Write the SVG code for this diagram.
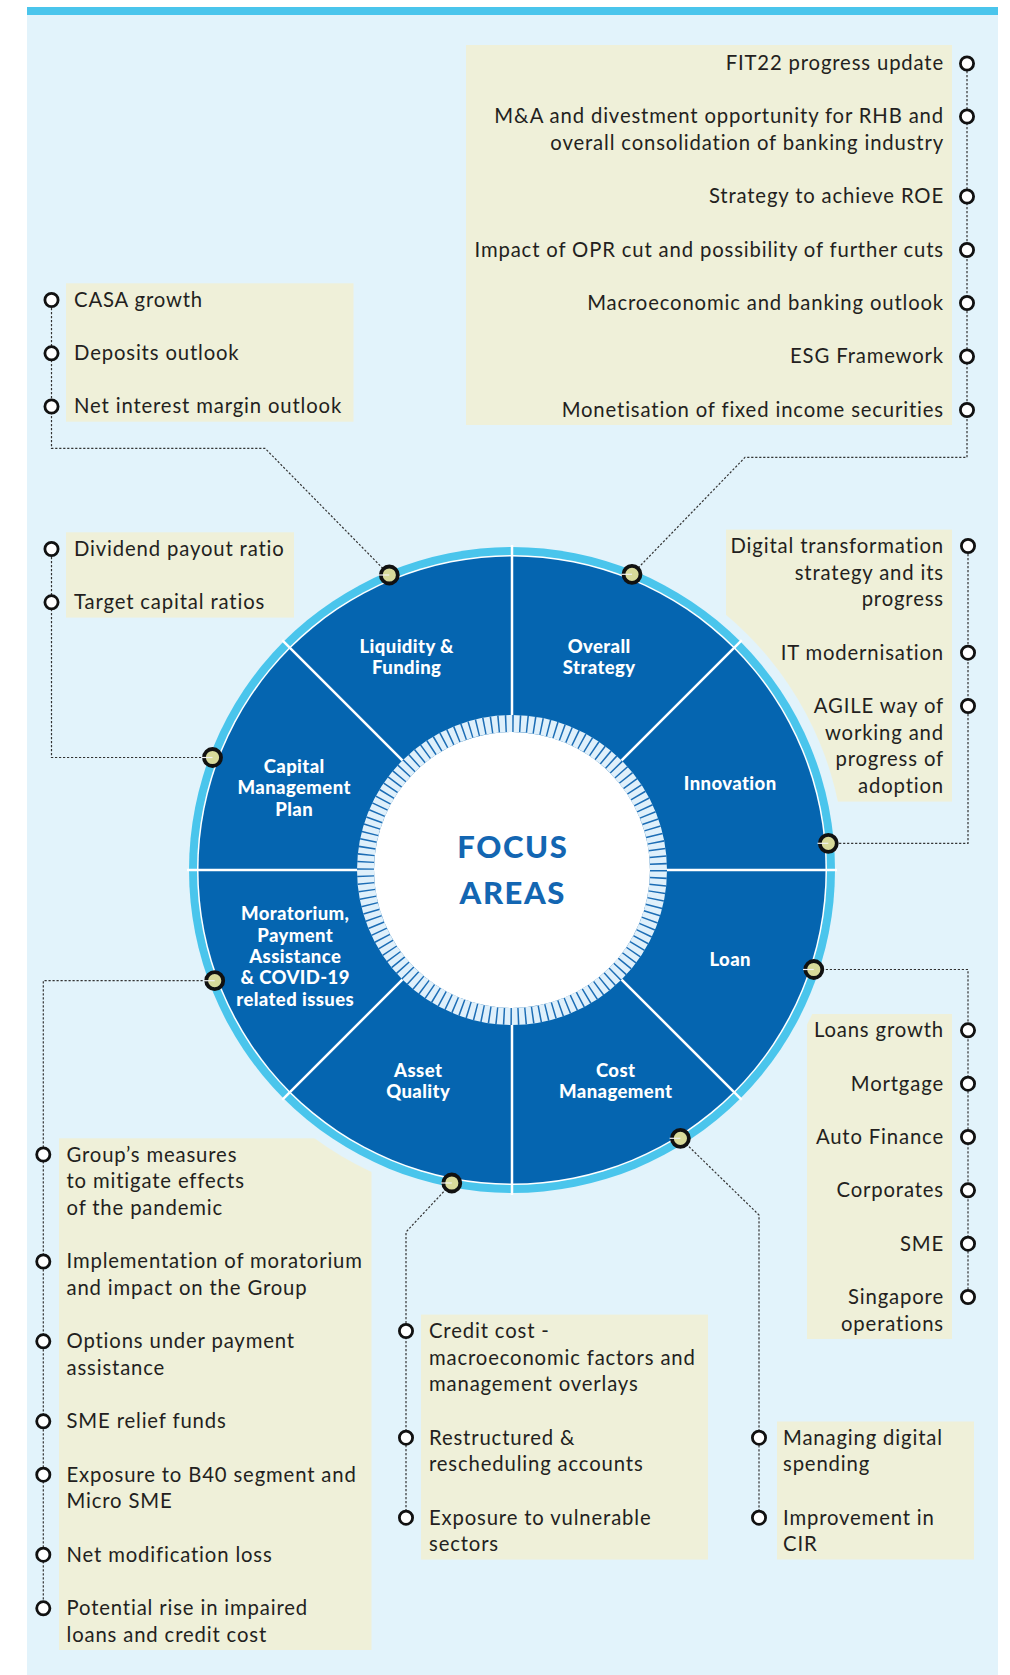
<svg xmlns="http://www.w3.org/2000/svg" width="1010" height="1675" viewBox="0 0 1010 1675">
<defs>
<style>
.bg{fill:#e2f3fb}
.bar{fill:#4ac5ec}
.box{fill:#eff0d9}
.t{font-family:Lato,"Open Sans","Liberation Sans",sans-serif;font-size:20.3px;letter-spacing:0.85px;fill:#231f20}
.r{text-anchor:end}
.lbl{font-family:Lato,"Open Sans","Liberation Sans",sans-serif;font-size:18.5px;font-weight:900;letter-spacing:0.4px;fill:#ffffff;text-anchor:middle}
.focus{font-family:Lato,"Open Sans","Liberation Sans",sans-serif;font-size:31px;font-weight:900;letter-spacing:1.6px;fill:#1366b2;text-anchor:middle}
.ic{fill:#ffffff;stroke:#111111;stroke-width:2.8}
.con{fill:none;stroke:#333333;stroke-width:1.2;stroke-dasharray:2.2 1.8}
.dot{fill:#d8da9a;stroke:#111111;stroke-width:3.8}
.tick{stroke:#f2f2f2;stroke-width:1.2}
.div{stroke:#ffffff;stroke-width:2.5}
</style>
<mask id="hole" maskUnits="userSpaceOnUse" x="0" y="0" width="1010" height="1675">
<rect x="0" y="0" width="1010" height="1675" fill="#ffffff"/>
<circle cx="512" cy="870" r="333" fill="#000000"/>
</mask>
</defs>
<rect class="bg" x="27" y="7" width="971" height="1668"/>
<rect class="bar" x="27" y="7" width="971" height="8"/>

<g id="wheel">
<circle cx="512" cy="870" r="323" fill="#4ac5ec"/>
<circle cx="512" cy="870" r="315" fill="#ffffff"/>
<circle cx="512" cy="870" r="313.5" fill="#0565b0"/>
<circle cx="512" cy="870" r="146.5" fill="none" stroke="#dff0fb" stroke-width="17"/>
<circle cx="512" cy="870" r="146.5" fill="none" stroke="#1c6db5" stroke-width="17" stroke-dasharray="1.5 5.691"/>
<circle cx="512" cy="870" r="138" fill="#ffffff"/>
<g class="div">
<line x1="512" y1="715" x2="512" y2="545"/>
<line x1="512" y1="1025" x2="512" y2="1195"/>
<line x1="357" y1="870" x2="187" y2="870"/>
<line x1="667" y1="870" x2="837" y2="870"/>
<line x1="621.6" y1="760.4" x2="741.8" y2="640.2"/>
<line x1="402.4" y1="760.4" x2="282.2" y2="640.2"/>
<line x1="621.6" y1="979.6" x2="741.8" y2="1099.8"/>
<line x1="402.4" y1="979.6" x2="282.2" y2="1099.8"/>
</g>
<text class="focus" x="512.8" y="858">FOCUS</text>
<text class="focus" x="512.8" y="904">AREAS</text>
</g>

<g id="seg-liquidity"><text class="lbl" x="406.7" y="652.7">Liquidity &amp;</text><text class="lbl" x="406.7" y="674">Funding</text></g>
<g id="seg-overall"><text class="lbl" x="599.2" y="652.7">Overall</text><text class="lbl" x="599.2" y="674">Strategy</text></g>
<g id="seg-capital"><text class="lbl" x="294.2" y="773">Capital</text><text class="lbl" x="294.2" y="794.3">Management</text><text class="lbl" x="294.2" y="815.6">Plan</text></g>
<g id="seg-innovation"><text class="lbl" x="730.2" y="790">Innovation</text></g>
<g id="seg-moratorium"><text class="lbl" x="295.2" y="920.4">Moratorium,</text><text class="lbl" x="295.2" y="941.7">Payment</text><text class="lbl" x="295.2" y="963">Assistance</text><text class="lbl" x="295.2" y="984.3">&amp; COVID-19</text><text class="lbl" x="295.2" y="1005.6">related issues</text></g>
<g id="seg-loan"><text class="lbl" x="730.2" y="966">Loan</text></g>
<g id="seg-asset"><text class="lbl" x="418.2" y="1077">Asset</text><text class="lbl" x="418.2" y="1098.3">Quality</text></g>
<g id="seg-cost"><text class="lbl" x="615.7" y="1077">Cost</text><text class="lbl" x="615.7" y="1098.3">Management</text></g>

<g id="connectors">
<polyline class="con" points="51.5,300 51.5,448.3 265,448.3 389.3,575"/>
<polyline class="con" points="967,63 967,457.4 745,457.4 632,574.3"/>
<polyline class="con" points="51.5,549 51.5,757.5 212.5,757.5"/>
<polyline class="con" points="968,546 968,843.3 828.3,843.3"/>
<polyline class="con" points="813.8,969.5 968,969.5 968,1297"/>
<polyline class="con" points="680.4,1138.3 759,1215 759,1517.7"/>
<polyline class="con" points="451.8,1183 406,1232 406,1517.7"/>
<polyline class="con" points="214.7,980.7 43.3,980.7 43.3,1608.3"/>
</g>

<g id="box-overall">
<rect class="box" x="466" y="45" width="486" height="380"/>
<text class="t r" x="944" y="70">FIT22 progress update</text>
<text class="t r" x="944" y="123.3">M&amp;A and divestment opportunity for RHB and</text>
<text class="t r" x="944" y="150">overall consolidation of banking industry</text>
<text class="t r" x="944" y="203.3">Strategy to achieve ROE</text>
<text class="t r" x="944" y="256.7">Impact of OPR cut and possibility of further cuts</text>
<text class="t r" x="944" y="310">Macroeconomic and banking outlook</text>
<text class="t r" x="944" y="363.3">ESG Framework</text>
<text class="t r" x="944" y="416.7">Monetisation of fixed income securities</text>
<circle class="ic" cx="967" cy="63.5" r="6.6"/>
<circle class="ic" cx="967" cy="116.5" r="6.6"/>
<circle class="ic" cx="967" cy="196.5" r="6.6"/>
<circle class="ic" cx="967" cy="250" r="6.6"/>
<circle class="ic" cx="967" cy="303" r="6.6"/>
<circle class="ic" cx="967" cy="356.5" r="6.6"/>
<circle class="ic" cx="967" cy="410" r="6.6"/>
</g>

<g id="box-liquidity">
<rect class="box" x="66" y="283.3" width="287.5" height="138.4"/>
<text class="t" x="74" y="306.7">CASA growth</text>
<text class="t" x="74" y="360">Deposits outlook</text>
<text class="t" x="74" y="413.3">Net interest margin outlook</text>
<circle class="ic" cx="51.5" cy="300" r="6.6"/>
<circle class="ic" cx="51.5" cy="353.3" r="6.6"/>
<circle class="ic" cx="51.5" cy="406.5" r="6.6"/>
</g>

<g id="box-capital">
<rect class="box" x="66" y="532.3" width="228" height="85.3" mask="url(#hole)"/>
<text class="t" x="74" y="555.7">Dividend payout ratio</text>
<text class="t" x="74" y="609">Target capital ratios</text>
<circle class="ic" cx="51.5" cy="549" r="6.6"/>
<circle class="ic" cx="51.5" cy="602.3" r="6.6"/>
</g>

<g id="box-innovation">
<rect class="box" x="726" y="529.6" width="226" height="272" mask="url(#hole)"/>
<text class="t r" x="944" y="553">Digital transformation</text>
<text class="t r" x="944" y="579.7">strategy and its</text>
<text class="t r" x="944" y="606.3">progress</text>
<text class="t r" x="944" y="659.7">IT modernisation</text>
<text class="t r" x="944" y="713">AGILE way of</text>
<text class="t r" x="944" y="739.7">working and</text>
<text class="t r" x="944" y="766.3">progress of</text>
<text class="t r" x="944" y="793">adoption</text>
<circle class="ic" cx="968" cy="546" r="6.6"/>
<circle class="ic" cx="968" cy="652.7" r="6.6"/>
<circle class="ic" cx="968" cy="706" r="6.6"/>
</g>

<g id="box-loan">
<rect class="box" x="807" y="1014" width="145" height="325" mask="url(#hole)"/>
<text class="t r" x="944" y="1037.3">Loans growth</text>
<text class="t r" x="944" y="1090.7">Mortgage</text>
<text class="t r" x="944" y="1144">Auto Finance</text>
<text class="t r" x="944" y="1197.3">Corporates</text>
<text class="t r" x="944" y="1250.7">SME</text>
<text class="t r" x="944" y="1304">Singapore</text>
<text class="t r" x="944" y="1330.7">operations</text>
<circle class="ic" cx="968" cy="1030.3" r="6.6"/>
<circle class="ic" cx="968" cy="1083.7" r="6.6"/>
<circle class="ic" cx="968" cy="1137" r="6.6"/>
<circle class="ic" cx="968" cy="1190.3" r="6.6"/>
<circle class="ic" cx="968" cy="1243.7" r="6.6"/>
<circle class="ic" cx="968" cy="1297" r="6.6"/>
</g>

<g id="box-asset">
<rect class="box" x="421" y="1314.6" width="287" height="245"/>
<text class="t" x="429" y="1338">Credit cost -</text>
<text class="t" x="429" y="1364.7">macroeconomic factors and</text>
<text class="t" x="429" y="1391.3">management overlays</text>
<text class="t" x="429" y="1444.7">Restructured &amp;</text>
<text class="t" x="429" y="1471.3">rescheduling accounts</text>
<text class="t" x="429" y="1524.7">Exposure to vulnerable</text>
<text class="t" x="429" y="1551.3">sectors</text>
<circle class="ic" cx="406" cy="1331" r="6.6"/>
<circle class="ic" cx="406" cy="1437.7" r="6.6"/>
<circle class="ic" cx="406" cy="1517.7" r="6.6"/>
</g>

<g id="box-cost">
<rect class="box" x="777" y="1421.5" width="197" height="138"/>
<text class="t" x="783" y="1444.7">Managing digital</text>
<text class="t" x="783" y="1471.3">spending</text>
<text class="t" x="783" y="1524.7">Improvement in</text>
<text class="t" x="783" y="1551.3">CIR</text>
<circle class="ic" cx="759" cy="1437.7" r="6.6"/>
<circle class="ic" cx="759" cy="1517.7" r="6.6"/>
</g>

<g id="box-moratorium">
<rect class="box" x="59" y="1138.3" width="312.5" height="511.7" mask="url(#hole)"/>
<text class="t" x="66.5" y="1161.7">Group’s measures</text>
<text class="t" x="66.5" y="1188.3">to mitigate effects</text>
<text class="t" x="66.5" y="1215">of the pandemic</text>
<text class="t" x="66.5" y="1268.3">Implementation of moratorium</text>
<text class="t" x="66.5" y="1295">and impact on the Group</text>
<text class="t" x="66.5" y="1348.3">Options under payment</text>
<text class="t" x="66.5" y="1375">assistance</text>
<text class="t" x="66.5" y="1428.3">SME relief funds</text>
<text class="t" x="66.5" y="1481.7">Exposure to B40 segment and</text>
<text class="t" x="66.5" y="1508.3">Micro SME</text>
<text class="t" x="66.5" y="1561.7">Net modification loss</text>
<text class="t" x="66.5" y="1615">Potential rise in impaired</text>
<text class="t" x="66.5" y="1641.7">loans and credit cost</text>
<circle class="ic" cx="43.3" cy="1154.5" r="6.6"/>
<circle class="ic" cx="43.3" cy="1261.5" r="6.6"/>
<circle class="ic" cx="43.3" cy="1341.3" r="6.6"/>
<circle class="ic" cx="43.3" cy="1421.3" r="6.6"/>
<circle class="ic" cx="43.3" cy="1474.7" r="6.6"/>
<circle class="ic" cx="43.3" cy="1554.7" r="6.6"/>
<circle class="ic" cx="43.3" cy="1608.3" r="6.6"/>
</g>

<g id="dots">
<g><circle class="dot" cx="389.3" cy="575" r="8.5"/><line class="tick" x1="378.5" y1="575" x2="389.3" y2="575"/></g>
<g><circle class="dot" cx="632" cy="574.3" r="8.5"/><line class="tick" x1="621.2" y1="574.3" x2="632" y2="574.3"/></g>
<g><circle class="dot" cx="212.5" cy="757.5" r="8.5"/><line class="tick" x1="201.7" y1="757.5" x2="212.5" y2="757.5"/></g>
<g><circle class="dot" cx="828.3" cy="843.3" r="8.5"/><line class="tick" x1="817.5" y1="843.3" x2="828.3" y2="843.3"/></g>
<g><circle class="dot" cx="813.8" cy="969.5" r="8.5"/><line class="tick" x1="803" y1="969.5" x2="813.8" y2="969.5"/></g>
<g><circle class="dot" cx="680.4" cy="1138.3" r="8.5"/><line class="tick" x1="669.6" y1="1138.3" x2="680.4" y2="1138.3"/></g>
<g><circle class="dot" cx="451.8" cy="1183" r="8.5"/><line class="tick" x1="441" y1="1183" x2="451.8" y2="1183"/></g>
<g><circle class="dot" cx="214.7" cy="980.7" r="8.5"/><line class="tick" x1="203.9" y1="980.7" x2="214.7" y2="980.7"/></g>
</g>
</svg>
